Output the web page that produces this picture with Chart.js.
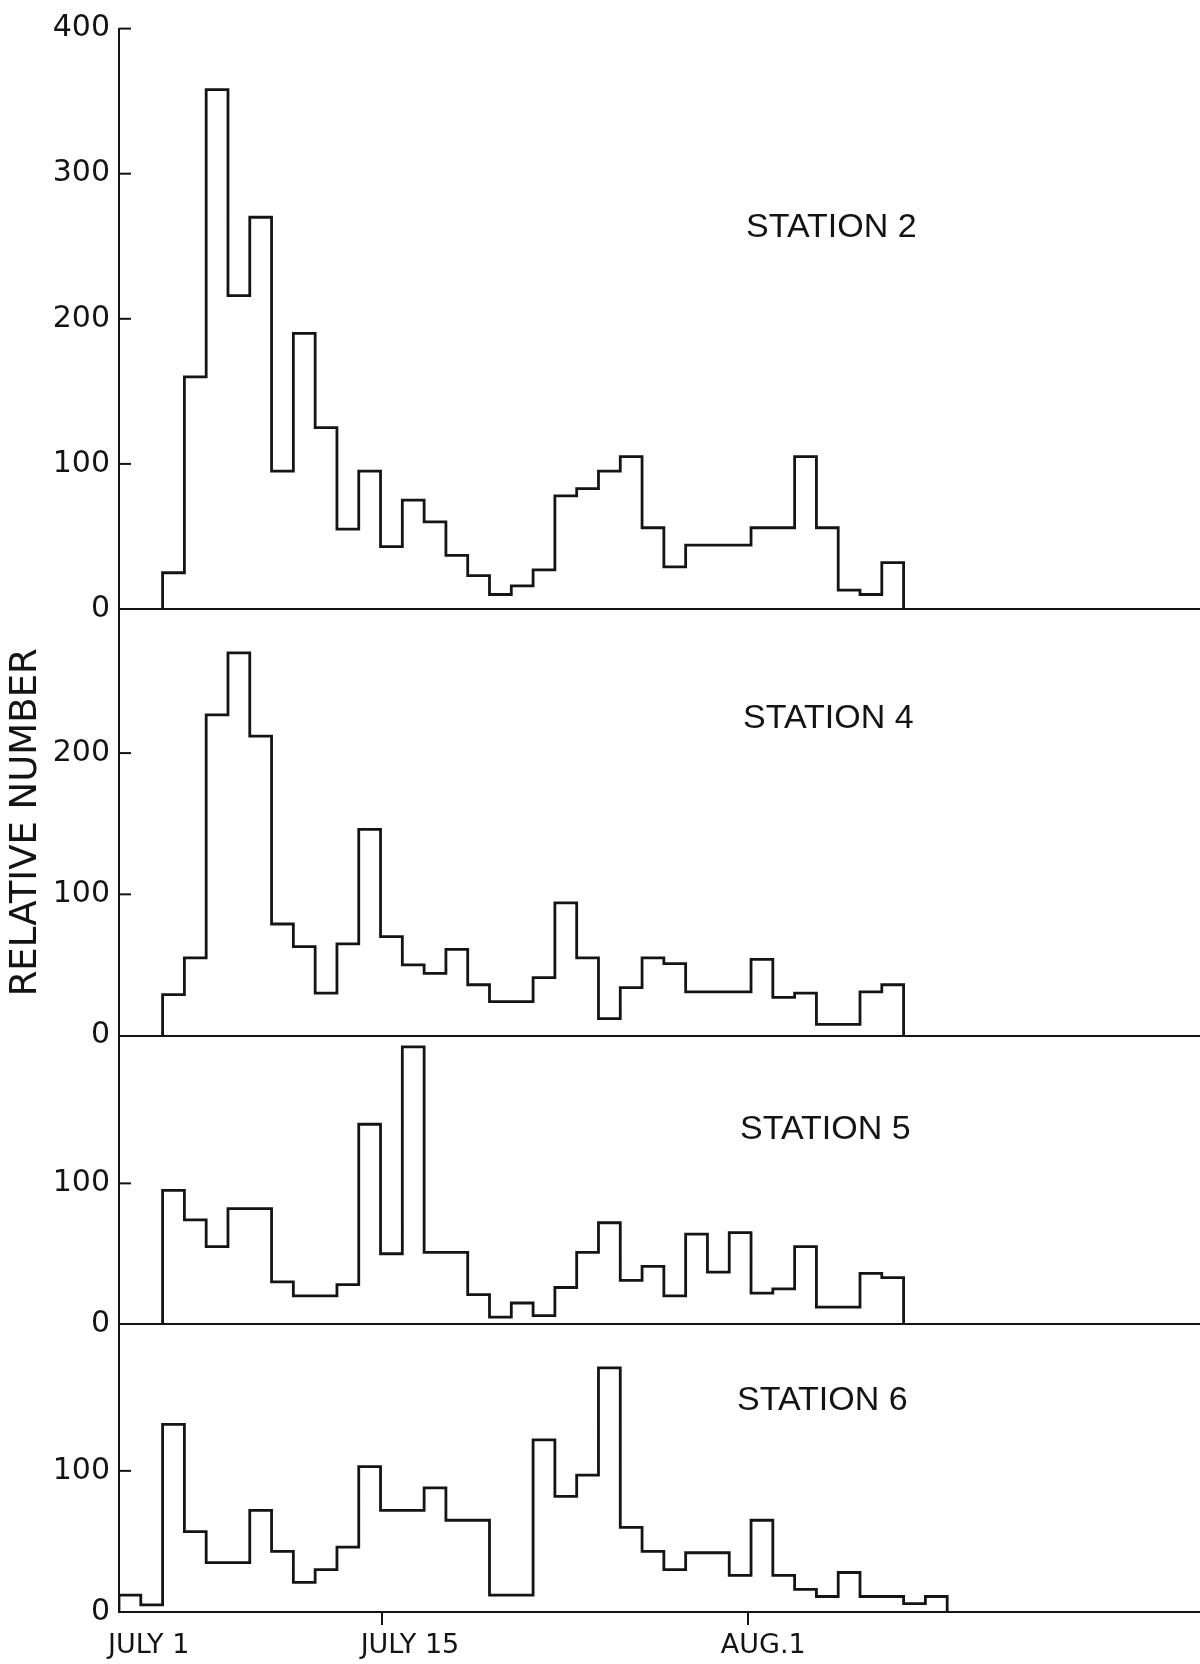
<!DOCTYPE html>
<html>
<head>
<meta charset="utf-8">
<title>Relative number by station</title>
<script src="https://cdn.jsdelivr.net/npm/chart.js@4.4.1/dist/chart.umd.min.js"></script>
<style>
  html, body { margin: 0; padding: 0; background: #fff; }
  #wrap { width: 1200px; height: 1664px; }
</style>
</head>
<body>
<div id="wrap"><canvas id="chart" width="1200" height="1664"></canvas></div>
<script>
// one value per day, starting at the given day bin (bin 0 = y axis)
const stationNames = ['STATION 2', 'STATION 4', 'STATION 5', 'STATION 6'];
const startBins = [2, 2, 2, 0];

const station2 = [25, 160, 358, 216, 270, 95, 190, 125, 55, 95, 43, 75, 60, 37, 23, 10, 16,
    27, 78, 83, 95, 105, 56, 29, 44, 44, 44, 56, 56, 105, 56, 13, 10, 32];
const station4 = [29, 55, 227, 271, 212, 79, 63, 30, 65, 146, 70, 50, 44, 61, 36, 24, 24,
    41, 94, 55, 12, 34, 55, 51, 31, 31, 31, 54, 27, 30, 8, 8, 31, 36];
const station5 = [95, 74, 55, 82, 82, 30, 20, 20, 28, 142, 50, 197, 51, 51, 21, 5, 15,
    6, 26, 51, 72, 31, 41, 20, 64, 37, 65, 22, 25, 55, 12, 12, 36, 33];
const station6 = [12, 5, 133, 57, 35, 35, 72, 43, 21, 30, 46, 103, 72, 72, 88, 65, 65, 12, 12,
    122, 82, 97, 173, 60, 43, 30, 42, 42, 26, 65, 26, 16, 11, 28, 11, 11, 6, 11];

// axis ticks
const yTicks2 = [0, 100, 200, 300, 400];
const yTicks4 = [0, 100, 200];
const yTicks5 = [0, 100];
const yTicks6 = [0, 100];
const dateLabels = ['JULY 1', 'JULY 15', 'AUG.1'];
const dateLabelAt = [1.36, 13.35, 29.56];
const dateMarkAt = [12.05, 28.85];

const INK = '#141414';
const seriesList = [station2, station4, station5, station6];
const axisIds = ['y2', 'y4', 'y5', 'y6'];

/**
 * Turn daily values into the corner points of a step outline
 */
function stepPoints(values, start) {
    const pts = [{ x: start, y: 0 }];
    values.forEach((v, i) => pts.push({ x: start + i, y: v }));
    pts.push({ x: start + values.length, y: values[values.length - 1] });
    pts.push({ x: start + values.length, y: 0 });
    return pts;
}

const datasets = seriesList.map((values, i) => ({
    label: stationNames[i],
    data: stepPoints(values, startBins[i]),
    yAxisID: axisIds[i],
    stepped: 'before',
    borderColor: INK,
    borderWidth: 2.8,
    pointRadius: 0,
    fill: false
}));

// short tick marks drawn inside the plot, right of the y axis
const innerTicks = {
    id: 'innerTicks',
    afterDatasetsDraw(chart) {
        const ctx = chart.ctx;
        const left = chart.chartArea.left;
        ctx.save();
        ctx.strokeStyle = INK;
        ctx.lineWidth = 2;
        axisIds.forEach(id => {
            const scale = chart.scales[id];
            scale.ticks.forEach(t => {
                if (t.value === 0) return;
                const y = scale.getPixelForValue(t.value);
                ctx.beginPath();
                ctx.moveTo(left, y);
                ctx.lineTo(left + 12, y);
                ctx.stroke();
            });
        });
        ctx.restore();
    }
};

// station names inside each panel
const stationLabels = {
    id: 'stationLabels',
    afterDatasetsDraw(chart) {
        const ctx = chart.ctx;
        const spots = [[746, 199], [743, 110], [740, 94], [737, 77]];
        ctx.save();
        ctx.fillStyle = INK;
        ctx.font = '34px "Liberation Sans", Arial, sans-serif';
        ctx.textAlign = 'left';
        ctx.textBaseline = 'middle';
        axisIds.forEach((id, i) => {
            const scale = chart.scales[id];
            ctx.fillText(stationNames[i], spots[i][0], scale.top + spots[i][1]);
        });
        ctx.restore();
    }
};

function zeroLine(ctx) {
    return ctx.tick && ctx.tick.value === 0 ? INK : 'rgba(0,0,0,0)';
}

function yAxis(max, ticks, weight, extra) {
    return Object.assign({
        type: 'linear',
        position: 'left',
        stack: 'panels',
        stackWeight: weight,
        min: 0,
        max: max,
        afterBuildTicks: s => { s.ticks = ticks.map(v => ({ value: v })); },
        afterFit: s => { s.width = 119; },
        grid: { drawTicks: false, lineWidth: 2, color: zeroLine },
        border: { color: INK, width: 2 },
        ticks: {
            padding: 9,
            color: INK,
            font: { family: 'DejaVu Sans', size: 30 }
        }
    }, extra || {});
}

new Chart(document.getElementById('chart'), {
    type: 'line',
    data: { datasets: datasets },
    options: {
        responsive: false,
        devicePixelRatio: 1,
        animation: false,
        layout: { padding: { top: 28.6, right: 0, bottom: 0, left: 0 } },
        plugins: {
            legend: { display: false },
            tooltip: { enabled: false }
        },
        scales: {
            x: {
                type: 'linear',
                position: 'bottom',
                min: 0,
                max: 49.6,
                afterBuildTicks: s => {
                    s.ticks = dateLabelAt.concat(dateMarkAt).sort((a, b) => a - b).map(v => ({ value: v }));
                },
                afterFit: s => { s.height = 52; },
                grid: {
                    drawOnChartArea: false,
                    drawTicks: true,
                    tickLength: 13,
                    lineWidth: 2,
                    color: ctx => ctx.tick && dateMarkAt.includes(ctx.tick.value) ? INK : 'rgba(0,0,0,0)'
                },
                border: { color: INK, width: 2 },
                ticks: {
                    autoSkip: false,
                    maxRotation: 0,
                    minRotation: 0,
                    padding: 5,
                    color: INK,
                    font: { family: 'DejaVu Sans', size: 27 },
                    callback: v => {
                        const i = dateLabelAt.indexOf(v);
                        return i >= 0 ? dateLabels[i] : '';
                    }
                }
            },
            y6: yAxis(204, yTicks6, 287.9),
            y5: yAxis(205, yTicks5, 288.5),
            y4: yAxis(302, yTicks4, 426.6, {
                title: {
                    display: true,
                    text: 'RELATIVE NUMBER',
                    color: INK,
                    font: { family: 'DejaVu Sans', size: 37 },
                    padding: { top: 4, bottom: 0 }
                }
            }),
            y2: yAxis(400, yTicks2, 580.4)
        }
    },
    plugins: [innerTicks, stationLabels]
});
</script>
</body>
</html>
